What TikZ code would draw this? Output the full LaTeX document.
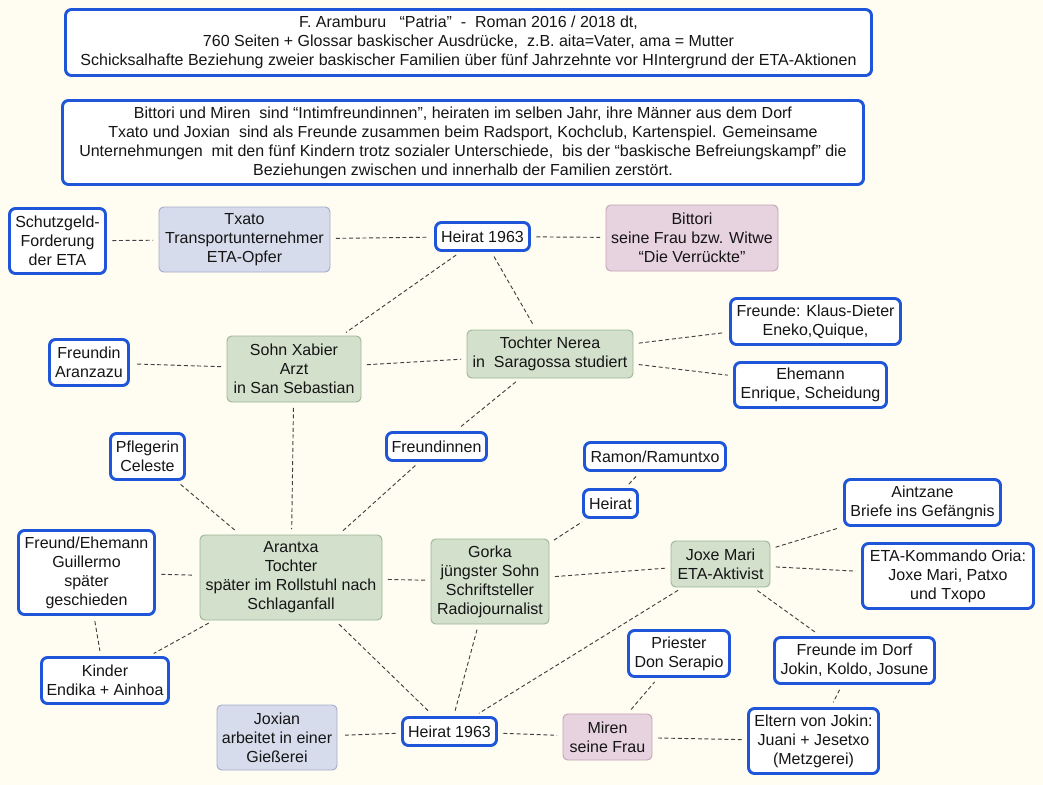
\documentclass[tikz,border=0pt]{standalone}
\usepackage{fontspec}
\setmainfont{Liberation Sans}
\definecolor{bgc}{HTML}{FFFDF2}
\definecolor{bluec}{HTML}{1F55D8}
\definecolor{greenf}{HTML}{D2E0CC}
\definecolor{greend}{HTML}{9DB595}
\definecolor{lavf}{HTML}{D6DCEC}
\definecolor{lavd}{HTML}{A3ABC9}
\definecolor{pinkf}{HTML}{E7D2DF}
\definecolor{pinkd}{HTML}{C3A3B5}
\definecolor{linkc}{HTML}{404040}
\definecolor{txtc}{HTML}{151515}
\begin{document}
\begin{tikzpicture}[x=0.75pt,y=-0.75pt,
  every node/.style={font=\fontsize{12}{14.25}\selectfont, text=txtc, align=center, inner sep=1pt},
  wh/.style 2 args={minimum width=#1*0.75pt, minimum height=#2*0.75pt},
  bluebox/.style={draw=bluec, line width=2.2pt, rounded corners=4.5pt, fill=white},
  greenbox/.style={draw=greend, line width=0.7pt, rounded corners=3.5pt, fill=greenf},
  lavbox/.style={draw=lavd, line width=0.7pt, rounded corners=3.5pt, fill=lavf},
  pinkbox/.style={draw=pinkd, line width=0.7pt, rounded corners=3.5pt, fill=pinkf},
  link/.style={draw=linkc, line width=0.7pt, dash pattern=on 3pt off 2pt, shorten >=4pt, shorten <=4pt}]
\fill[bgc] (0,0) rectangle (1043,785);
\useasboundingbox (0,0) rectangle (1043,785);

\node[bluebox, wh={806}{66}] (top1) at (468.5,42.5) {F. Aramburu\ \ \ “Patria”\ \ -\ \ Roman 2016 / 2018 dt,\\760 Seiten + Glossar baskischer Ausdrücke,\ \ z.B. aita=Vater, ama = Mutter\\Schicksalhafte Beziehung zweier baskischer Familien über fünf Jahrzehnte vor HIntergrund der ETA-Aktionen};
\node[bluebox, wh={801}{84}] (top2) at (463,142.5) {Bittori und Miren\ \ sind “Intimfreundinnen”, heiraten im selben Jahr, ihre Männer aus dem Dorf\\Txato und Joxian\ \ sind als Freunde zusammen beim Radsport, Kochclub, Kartenspiel. Gemeinsame\\Unternehmungen\ \ mit den fünf Kindern trotz sozialer Unterschiede,\ \ bis der “baskische Befreiungskampf” die\\Beziehungen zwischen und innerhalb der Familien zerstört.};

\node[bluebox, wh={96}{65}] (schutz) at (57.5,241) {Schutzgeld-\\Forderung\\der ETA};
\node[lavbox, wh={171}{65}] (txato) at (244.5,239.5) {Txato\\Transportunternehmer\\ETA-Opfer};
\node[bluebox, wh={94}{28}] (heiratA) at (482.5,236.5) {Heirat 1963};
\node[pinkbox, wh={172}{66}] (bittori) at (692,238) {Bittori\\seine Frau bzw. Witwe\\“Die Verrückte”};
\node[greenbox, wh={134}{66}] (xabier) at (294,369) {Sohn Xabier\\Arzt\\in San Sebastian};
\node[bluebox, wh={79}{46}] (aranzazu) at (89,362.5) {Freundin\\Aranzazu};
\node[greenbox, wh={166}{48}] (nerea) at (550,354) {Tochter Nerea\\in\ \ Saragossa studiert};
\node[bluebox, wh={170}{46}] (klaus) at (815.5,321.5) {Freunde: Klaus-Dieter\\Eneko,Quique,};
\node[bluebox, wh={152}{45}] (ehemann) at (810.5,385) {Ehemann\\Enrique, Scheidung};
\node[bluebox, wh={100}{28}] (freundinnen) at (436.5,446.5) {Freundinnen};
\node[bluebox, wh={74}{46}] (pfleg) at (147.5,456.5) {Pflegerin\\Celeste};
\node[greenbox, wh={182}{85}] (arantxa) at (291,577.5) {Arantxa\\Tochter\\später im Rollstuhl nach\\Schlaganfall};
\node[bluebox, wh={136}{84}] (guillermo) at (86.5,572.5) {Freund/Ehemann\\Guillermo\\später\\geschieden};
\node[bluebox, wh={127}{46}] (kinder) at (105,680.5) {Kinder\\Endika + Ainhoa};
\node[greenbox, wh={118}{85}] (gorka) at (490,581.5) {Gorka\\jüngster Sohn\\Schriftsteller\\Radiojournalist};
\node[bluebox, wh={141}{28}] (ramon) at (655,456.5) {Ramon/Ramuntxo};
\node[bluebox, wh={54}{28}] (heiratB) at (610.5,503.5) {Heirat};
\node[greenbox, wh={99}{46}] (joxemari) at (720.5,564) {Joxe Mari\\ETA-Aktivist};
\node[bluebox, wh={156}{46}] (aintzane) at (922.5,502.5) {Aintzane\\Briefe ins Gefängnis};
\node[bluebox, wh={171}{65}] (kommando) at (948,576) {ETA-Kommando Oria:\\Joxe Mari, Patxo\\und Txopo};
\node[bluebox, wh={160}{46}] (dorf) at (854.5,660.5) {Freunde im Dorf\\Jokin, Koldo, Josune};
\node[bluebox, wh={101}{46}] (priester) at (679,653.5) {Priester\\Don Serapio};
\node[bluebox, wh={94}{28}] (heiratC) at (449.5,731.5) {Heirat 1963};
\node[lavbox, wh={120}{65}] (joxian) at (277,737.5) {Joxian\\arbeitet in einer\\Gießerei};
\node[pinkbox, wh={89}{46}] (miren) at (607.5,737) {Miren\\seine Frau};
\node[bluebox, wh={130}{65}] (eltern) at (813.5,741) {Eltern von Jokin:\\Juani + Jesetxo\\(Metzgerei)};

\draw[link] (schutz) -- (txato);
\draw[link] (txato) -- (heiratA);
\draw[link] (heiratA) -- (bittori);
\draw[link] (heiratA) -- (xabier);
\draw[link] (heiratA) -- (nerea);
\draw[link] (xabier) -- (aranzazu);
\draw[link] (xabier) -- (nerea);
\draw[link] (nerea) -- (klaus);
\draw[link] (nerea) -- (ehemann);
\draw[link] (nerea) -- (freundinnen);
\draw[link] (xabier) -- (arantxa);
\draw[link] (freundinnen) -- (arantxa);
\draw[link] (pfleg) -- (arantxa);
\draw[link] (guillermo) -- (arantxa);
\draw[link] (guillermo) -- (kinder);
\draw[link] (arantxa) -- (kinder);
\draw[link] (arantxa) -- (gorka);
\draw[link] (arantxa) -- (heiratC);
\draw[link] (gorka) -- (heiratC);
\draw[link] (gorka) -- (heiratB);
\draw[link] (heiratB) -- (ramon);
\draw[link] (gorka) -- (joxemari);
\draw[link] (joxemari) -- (aintzane);
\draw[link] (joxemari) -- (kommando);
\draw[link] (joxemari) -- (dorf);
\draw[link] (joxemari) -- (heiratC);
\draw[link] (heiratC) -- (joxian);
\draw[link] (heiratC) -- (miren);
\draw[link] (miren) -- (priester);
\draw[link] (miren) -- (eltern);
\draw[link] (dorf) -- (eltern);
\end{tikzpicture}
\end{document}
